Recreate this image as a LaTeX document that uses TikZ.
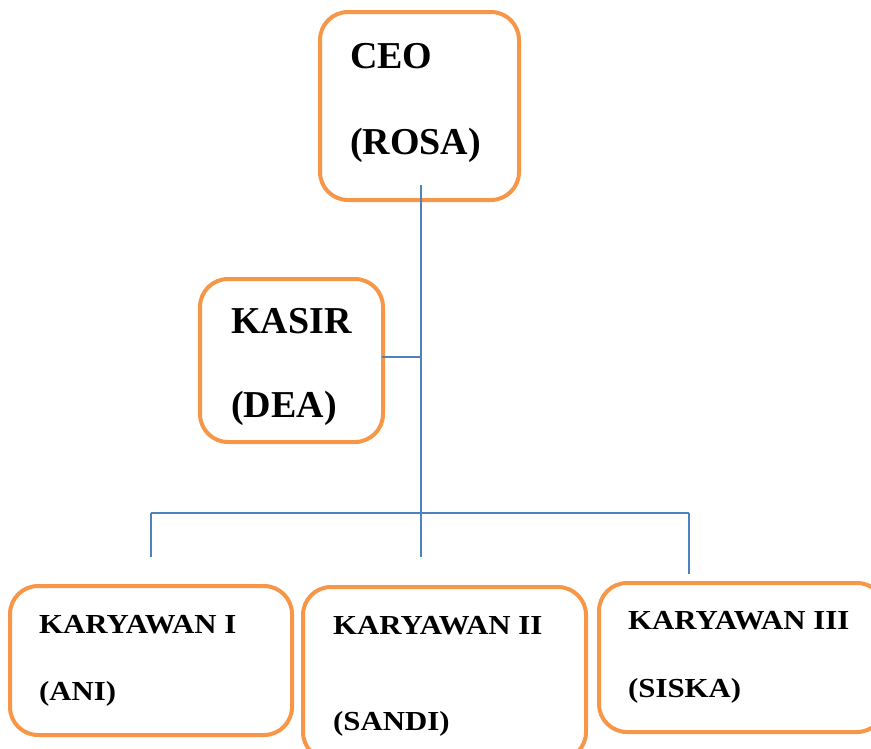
\documentclass[tikz,border=0pt]{standalone}
\usepackage{fontspec}
\setmainfont{Liberation Serif}
\newfontfamily\widefont[FakeStretch=1.12]{Liberation Serif}
\definecolor{boxorange}{HTML}{F79646}
\definecolor{linkblue}{HTML}{4F81BD}
\begin{document}
\begin{tikzpicture}[x=1pt,y=-1pt,
  orgbox/.style={draw=boxorange, line width=4pt, rounded corners=28pt, fill=white, inner sep=0pt},
  link/.style={draw=linkblue, line width=1.5pt},
  bigtext/.style={font=\fontsize{38}{40}\selectfont\bfseries, anchor=base west, inner sep=0pt},
  smalltext/.style={font=\widefont\fontsize{27.5}{29}\selectfont\bfseries, anchor=base west, inner sep=0pt}]
\useasboundingbox (0,0) rectangle (871,748);
\clip (0,0) rectangle (871,748);
% boxes
\node[orgbox, minimum width=199pt, minimum height=188pt] (ceo) at (419.5,106) {};
\node[orgbox, minimum width=183pt, minimum height=163pt] (kasir) at (291.5,360.5) {};
\node[orgbox, minimum width=282pt, minimum height=149pt] (k1) at (151,660.5) {};
\node[orgbox, minimum width=283pt, minimum height=173pt] (k2) at (444.5,673.5) {};
\node[orgbox, minimum width=286pt, minimum height=149pt] (k3) at (742,657.5) {};
% texts
\node[bigtext] (ceoa) at (350,68) {CEO};
\node[bigtext] (ceob) at (350,154) {(ROSA)};
\node[bigtext] (kasira) at (231,333) {KASIR};
\node[bigtext] (kasirb) at (231,417) {(DEA)};
\node[smalltext] (k1a) at (39,633) {KARYAWAN I};
\node[smalltext] (k1b) at (39,700) {(ANI)};
\node[smalltext] (k2a) at (333,634) {KARYAWAN II};
\node[smalltext] (k2b) at (333,730) {(SANDI)};
\node[smalltext] (k3a) at (628,629) {KARYAWAN III};
\node[smalltext] (k3b) at (628,697) {(SISKA)};
% connectors
\coordinate (top) at (421,185);
\coordinate (midend) at (421,557);
\coordinate (left) at (151,513);
\coordinate (leftend) at (151,557);
\coordinate (right) at (689,513);
\coordinate (rightend) at (689,574);
\coordinate (kj) at (421,357);
\coordinate (ks) at (382,357);
\draw[link] (top) -- (midend);
\draw[link] (ks) -- (kj);
\draw[link] (left) -- (right);
\draw[link] (left) -- (leftend);
\draw[link] (right) -- (rightend);
\end{tikzpicture}
\end{document}
